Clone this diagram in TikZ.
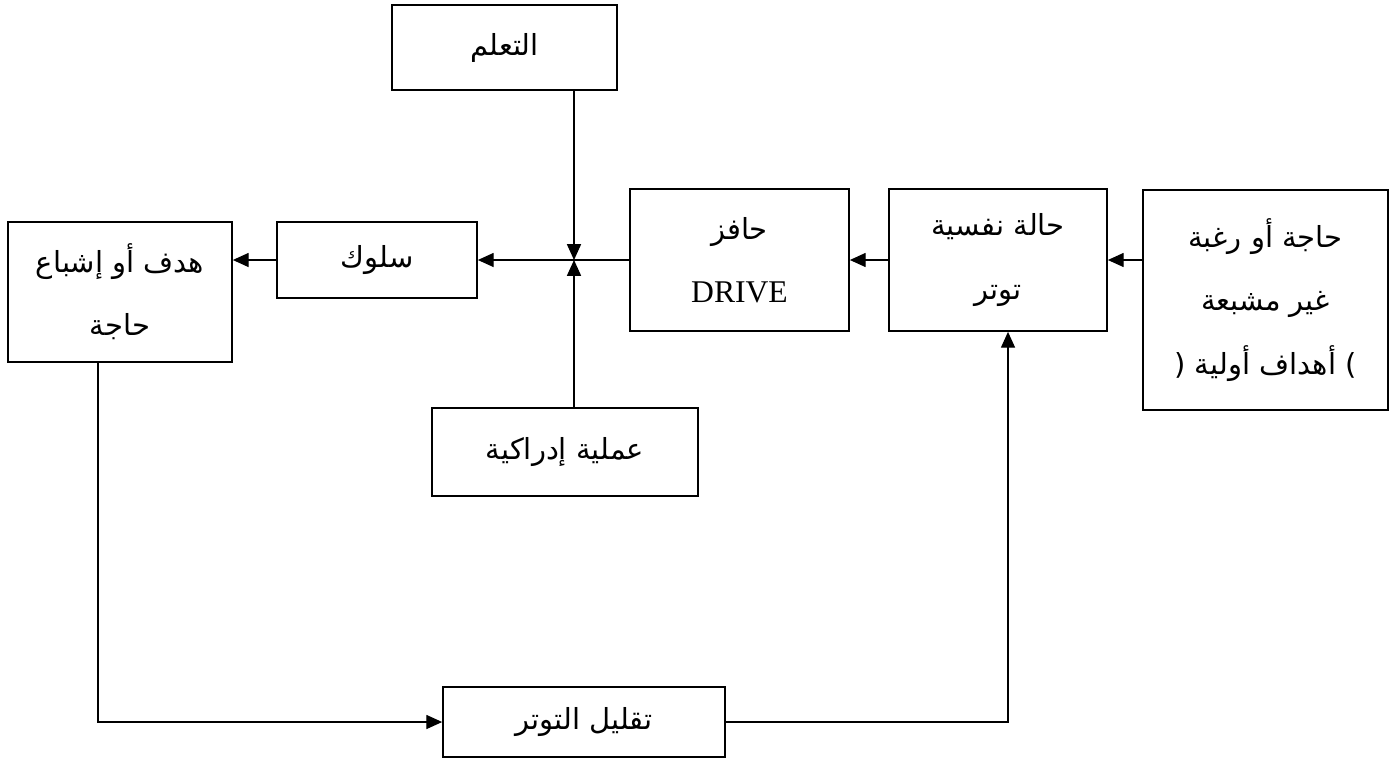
\documentclass[tikz,border=0pt]{standalone}
\usepackage{fontspec}
\setmainfont{Liberation Serif}
\newfontfamily\arabicfont[Script=Arabic]{DejaVu Sans}
\TeXXeTstate=1
\usetikzlibrary{arrows.meta, positioning, calc}
\newcommand{\artext}[1]{{\arabicfont\beginR #1\endR}}
\tikzset{
    box/.style={
        draw=black,
        line width=1pt,
        fill=white,
        font=\fontsize{16.5}{36}\selectfont,
        align=center,
        inner sep=2pt
    },
    arrow/.style={
        -{Triangle[length=9pt, width=8pt]},
        line width=0.7pt,
        black
    }
}
\begin{document}
\begin{tikzpicture}[x=0.02cm, y=-0.02cm]
    \useasboundingbox (0,0) rectangle (1391,761);

    % Top box
    \node[box, minimum width=4.5cm, minimum height=1.7cm] (learn) at (504.5,47.5) {\artext{التعلم}};

    % Main row
    \node[box, minimum width=4.9cm, minimum height=4.4cm] (need) at (1265.5,300) {\artext{حاجة أو رغبة}\\ \artext{غير مشبعة}\\ {\arabicfont ( \beginR أهداف أولية\endR{} )}};
    \node[box, minimum width=4.36cm, minimum height=2.84cm] (tension) at (998,260) {\artext{حالة نفسية}\\ \artext{توتر}};
    \node[box, minimum width=4.38cm, minimum height=2.84cm] (drive) at (739.5,260) {\artext{حافز}\\ {\fontsize{18}{36}\selectfont DRIVE}};
    \node[box, minimum width=4cm, minimum height=1.52cm] (behave) at (377,260) {\artext{سلوك}};
    \node[box, minimum width=4.48cm, minimum height=2.8cm] (goal) at (120,292) {\artext{هدف أو إشباع}\\ \artext{حاجة}};

    % Lower boxes
    \node[box, minimum width=5.32cm, minimum height=1.76cm] (percept) at (565,452) {\artext{عملية إدراكية}};
    \node[box, minimum width=5.64cm, minimum height=1.4cm] (relief) at (584,722) {\artext{تقليل التوتر}};

    % Junction and corners
    \coordinate (junc) at (574,260);
    \coordinate (goaldown) at (98,722);
    \coordinate (tensup) at (1008,722);

    % Arrows
    \draw[arrow] (need.west |- tension) -- (tension.east);
    \draw[arrow] (tension.west) -- (drive.east);
    \draw[arrow] (drive.west) -- (behave.east);
    \draw[arrow] (behave.west) -- (behave.west -| goal.east);
    \draw[arrow] (learn.south -| junc) -- (junc);
    \draw[arrow] (percept.north -| junc) -- (junc);
    \draw[arrow] (goal.south -| goaldown) |- (relief.west);
    \draw[arrow] (relief.east) -| (tension.south -| tensup);
\end{tikzpicture}
\end{document}
